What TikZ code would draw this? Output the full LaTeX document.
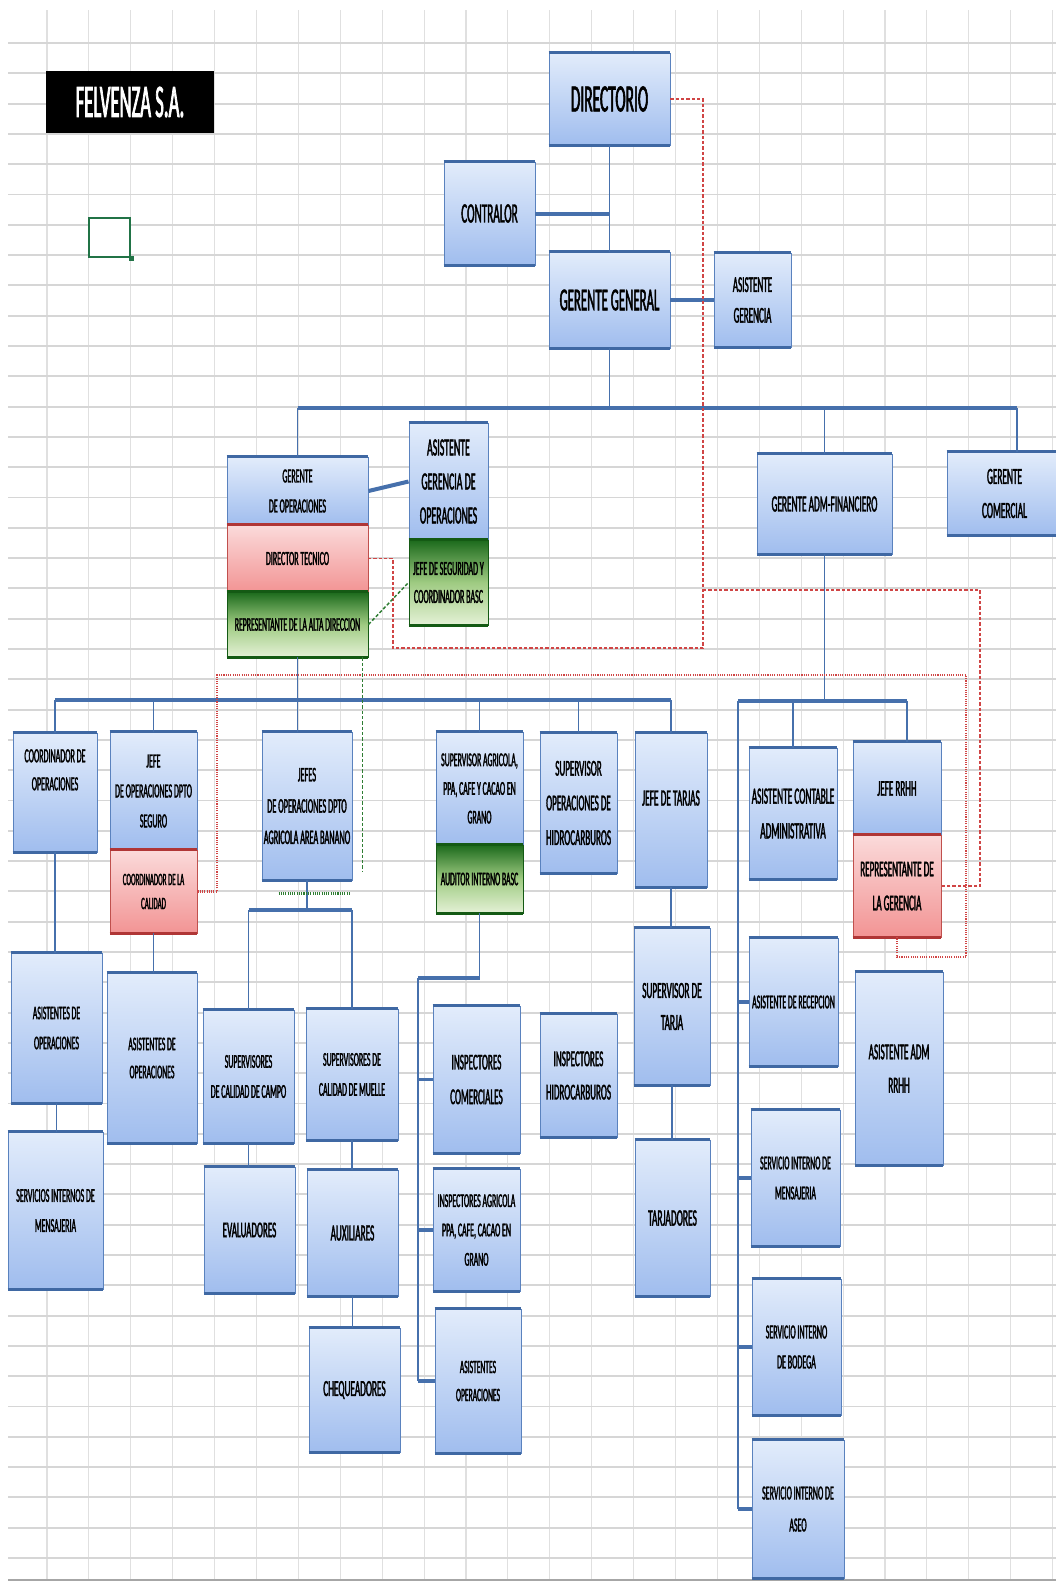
\documentclass[tikz,border=0pt]{standalone}
\usepackage{fontspec}
\newfontfamily\cf[FakeStretch=0.4, FakeBold=1.5]{Carlito}
\usetikzlibrary{calc}
\definecolor{btop}{HTML}{E2ECFB}
\definecolor{bbot}{HTML}{A0BDEE}
\definecolor{bdr}{HTML}{5A82BE}
\definecolor{bedge}{HTML}{3F68A3}
\definecolor{rtop}{HTML}{FBDADA}
\definecolor{rbot}{HTML}{F29494}
\definecolor{rdr}{HTML}{C0504D}
\definecolor{redge}{HTML}{B03636}
\definecolor{gtop}{HTML}{1C6A1C}
\definecolor{gmid}{HTML}{9FCB82}
\definecolor{gbot}{HTML}{E4F1D6}
\definecolor{gedge}{HTML}{145A14}
\definecolor{lnc}{HTML}{4670AC}
\definecolor{dashred}{HTML}{D04545}
\definecolor{dgreen}{HTML}{2E7D32}
\definecolor{gridh}{HTML}{D6D6D6}
\definecolor{gridv}{HTML}{E0E0E0}
\definecolor{xlgreen}{HTML}{217346}
\newcommand\fz[2]{\fontsize{#1}{#2}\selectfont}
\newcommand\bx[8]{%
  \node[#2, font={\cf\fz#7}, minimum width={(#5-#3)*0.75pt}, minimum height={(#6-#4)*0.75pt}]
    (#1) at ({(#3+#5)/2},{(#4+#6)/2}) {#8};}
\tikzset{
  edgeline/.style={line width=2.2pt, line cap=butt},
  boxbase/.style={line width=0.7pt, inner sep=1pt, align=center, text=black},
  bbox/.style={boxbase, draw=bdr, top color=btop, bottom color=bbot,
    append after command={(\tikzlastnode.north west) edge[edgeline, draw=bedge] (\tikzlastnode.north east)
      (\tikzlastnode.south west) edge[edgeline, draw=bedge] (\tikzlastnode.south east)}},
  rbox/.style={boxbase, draw=rdr, top color=rtop, bottom color=rbot,
    append after command={(\tikzlastnode.north west) edge[edgeline, draw=redge] (\tikzlastnode.north east)
      (\tikzlastnode.south west) edge[edgeline, draw=redge] (\tikzlastnode.south east)}},
  gbox/.style={boxbase, draw=gedge, top color=gtop, bottom color=gbot, middle color=gmid,
    append after command={(\tikzlastnode.north west) edge[edgeline, draw=gedge] (\tikzlastnode.north east)
      (\tikzlastnode.south west) edge[edgeline, draw=gedge] (\tikzlastnode.south east)}},
  conn/.style={draw=lnc, line width=1.3pt},
  connB/.style={draw=lnc, line width=2.4pt},
  connT/.style={draw=lnc, line width=3pt},
  reddash/.style={draw=dashred, line width=1.1pt, dash pattern=on 2.5pt off 1.5pt},
  reddot/.style={draw=dashred, line width=1.8pt, dash pattern=on 0.8pt off 0.9pt},
  greendash/.style={draw=dgreen, line width=1.1pt, dash pattern=on 2.5pt off 1.5pt},
  greendot/.style={draw=dgreen, line width=1.8pt, dash pattern=on 0.8pt off 0.9pt},
}
\begin{document}
\begin{tikzpicture}[x=0.75pt, y=-0.75pt]
\useasboundingbox (0,0) rectangle (1056,1582);
\fill[white] (0,0) rectangle (1056,1582);
% spreadsheet grid
\foreach \i in {0,...,24} \draw[gridv, line width=0.8pt] ({47+41.9*\i},10) -- ({47+41.9*\i},1580);
\foreach \i in {0,...,50} \draw[gridh, line width=1.4pt] (8,{43+30.3*\i}) -- (1056,{43+30.3*\i});
\draw[gray!70, line width=0.8pt] (8,1580) -- (1056,1580);

% title and selected cell
\node[fill=black, text=white, font={\cf\fz{35}{40}}, minimum width={168*0.75pt}, minimum height={62*0.75pt}] (felv) at (130,102) {FELVENZA S.A.};
\node[draw=xlgreen, line width=1.6pt, fill=white, minimum width={41*0.75pt}, minimum height={39*0.75pt}, inner sep=0pt] (sel) at (109.5,237.5) {};
\fill[xlgreen] ([shift={(-2.5,-2.5)}]sel.south east) rectangle ([shift={(2.5,2.5)}]sel.south east);

% top level
\bx{dir}{bbox}{549}{53}{670}{145}{{29}{34}}{DIRECTORIO}
\bx{contr}{bbox}{444}{162}{535}{265}{{21}{26}}{CONTRALOR}
\bx{gg}{bbox}{549}{252}{670}{348}{{24}{28}}{GERENTE GENERAL}
\bx{asg}{bbox}{714}{253}{791}{347}{{17}{23}}{ASISTENTE\\GERENCIA}

\bx{gop}{bbox}{227}{457}{368}{525}{{15}{22.5}}{GERENTE\\DE OPERACIONES}
\bx{dtec}{rbox}{227}{525}{368}{592}{{15}{22}}{DIRECTOR TECNICO}
\bx{rep}{gbox}{227}{592}{368}{657}{{14.5}{20}}{REPRESENTANTE DE LA ALTA DIRECCION}
\bx{agop}{bbox}{409}{423}{488}{540}{{18.5}{25.5}}{ASISTENTE\\GERENCIA DE\\OPERACIONES}
\bx{jseg}{gbox}{409}{540}{488}{625}{{15}{21}}{JEFE DE SEGURIDAD Y\\COORDINADOR BASC}
\bx{gadm}{bbox}{757}{454}{892}{554}{{17.4}{24}}{GERENTE ADM-FINANCIERO}
\bx{gcom}{bbox}{947}{452}{1062}{535}{{17.4}{25.5}}{GERENTE\\COMERCIAL}

% second level
\bx{cop}{bbox}{13}{733}{97}{852}{{15}{21}}{}
\node[font={\cf\fz{15}{21}}, align=center, inner sep=0pt] (copt) at ([yshift=17pt]cop.center) {COORDINADOR DE\\OPERACIONES};
\bx{jdseg}{bbox}{110}{732}{197}{850}{{15}{22.5}}{JEFE\\DE OPERACIONES DPTO\\SEGURO}
\bx{dcal}{rbox}{110}{850}{197}{933}{{13}{18}}{COORDINADOR DE LA\\CALIDAD}
\bx{jefes}{bbox}{262}{732}{352}{880}{{15.5}{23.5}}{JEFES\\DE OPERACIONES DPTO\\AGRICOLA AREA BANANO}
\bx{sagr}{bbox}{436}{732}{523}{845}{{14.7}{21.5}}{SUPERVISOR AGRICOLA,\\PPA, CAFE Y CACAO EN\\GRANO}
\bx{aud}{gbox}{436}{845}{523}{913}{{14.5}{20}}{AUDITOR INTERNO BASC}
\bx{shid}{bbox}{540}{733}{617}{873}{{17}{26}}{SUPERVISOR\\OPERACIONES DE\\HIDROCARBUROS}
\bx{jtar}{bbox}{635}{733}{707}{887}{{17.5}{24}}{}
\node[font={\cf\fz{17.5}{24}}, align=center, inner sep=0pt] (jtart) at ([yshift=9pt]jtar.center) {JEFE DE TARJAS};
\bx{acont}{bbox}{749}{748}{837}{879}{{17.5}{26}}{ASISTENTE CONTABLE\\ADMINISTRATIVA}
\bx{jrrhh}{bbox}{853}{742}{941}{835}{{17}{24}}{JEFE RRHH}
\bx{repg}{rbox}{853}{835}{941}{937}{{17}{25.5}}{REPRESENTANTE DE\\LA GERENCIA}

% third level and below
\bx{aop1}{bbox}{11}{953}{102}{1103}{{14.5}{22.5}}{ASISTENTES DE\\OPERACIONES}
\bx{smen1}{bbox}{8}{1132}{103}{1289}{{14.8}{22.5}}{SERVICIOS INTERNOS DE\\MENSAJERIA}
\bx{aop2}{bbox}{107}{973}{197}{1143}{{14.5}{21}}{ASISTENTES DE\\OPERACIONES}
\bx{scamp}{bbox}{203}{1010}{294}{1143}{{14.7}{22.5}}{SUPERVISORES\\DE CALIDAD DE CAMPO}
\bx{smue}{bbox}{306}{1009}{398}{1140}{{14.7}{22.5}}{SUPERVISORES DE\\CALIDAD DE MUELLE}
\bx{eval}{bbox}{204}{1167}{295}{1293}{{16.9}{22}}{EVALUADORES}
\bx{aux}{bbox}{307}{1170}{398}{1296}{{17.4}{22}}{AUXILIARES}
\bx{cheq}{bbox}{309}{1328}{400}{1452}{{17.3}{22}}{CHEQUEADORES}
\bx{icom}{bbox}{433}{1006}{520}{1153}{{17}{26}}{INSPECTORES\\COMERCIALES}
\bx{iagr}{bbox}{433}{1169}{520}{1291}{{14.7}{22}}{INSPECTORES AGRICOLA\\PPA, CAFE, CACAO EN\\GRANO}
\bx{asop}{bbox}{435}{1309}{521}{1453}{{14.2}{21}}{ASISTENTES\\OPERACIONES}
\bx{ihid}{bbox}{540}{1014}{617}{1137}{{17}{25}}{INSPECTORES\\HIDROCARBUROS}
\bx{star}{bbox}{634}{928}{710}{1085}{{17.3}{24}}{SUPERVISOR DE\\TARJA}
\bx{tarj}{bbox}{635}{1140}{710}{1296}{{17.7}{22}}{TARJADORES}
\bx{arec}{bbox}{749}{938}{838}{1066}{{14.7}{22}}{ASISTENTE DE RECEPCION}
\bx{smen2}{bbox}{751}{1110}{840}{1246}{{14.7}{22.5}}{SERVICIO INTERNO DE\\MENSAJERIA}
\bx{sbod}{bbox}{752}{1279}{841}{1415}{{15}{22.5}}{SERVICIO INTERNO\\DE BODEGA}
\bx{aseo}{bbox}{752}{1440}{844}{1578}{{14.9}{24}}{SERVICIO INTERNO DE\\ASEO}
\bx{aarrhh}{bbox}{855}{972}{943}{1165}{{17.2}{25}}{ASISTENTE ADM\\RRHH}

% routing coordinates
\coordinate (bR) at (1017,408);
\coordinate (b2) at (0,700);
\coordinate (b3L) at (738,701);
\coordinate (b3R) at (907,701);
\coordinate (brY) at (0,910);
\coordinate (aX) at (418,0);
\coordinate (aY) at (0,978);
\coordinate (rX) at (703,0);
\coordinate (rY1) at (0,648);
\coordinate (rX2) at (393,0);
\coordinate (rY2) at (0,590);
\coordinate (rX3) at (980,0);
\coordinate (dX1) at (217,0);
\coordinate (dY1) at (0,675);
\coordinate (dX2) at (966,0);
\coordinate (dY2) at (0,957);

% solid connectors, top
\draw[conn] (dir.south) -- (dir.south |- gg.north);
\draw[connT] (contr.east) -- (contr.east -| dir.south);
\draw[connT] (gg.east) -- (asg.west);
\draw[conn] (gg.south) -- (gg.south |- bR);
\draw[connT] (gop.north |- bR) -- (bR);
\draw[conn] (gop.north |- bR) -- (gop.north);
\draw[conn] (gadm.north |- bR) -- (gadm.north);
\draw[conn] (bR) -- (bR |- gcom.north);
\draw[connT] (gop.east) -- (agop.west);

% left bus
\draw[connB] (cop.north |- b2) -- (jtar.north |- b2);
\foreach \n in {cop,jdseg,sagr,shid,jtar} \draw[conn] (\n.north |- b2) -- (\n.north);
\draw[conn] (rep.south) -- (rep.south |- jefes.north);
\draw[conn] (cop.south) -- (cop.south |- aop1.north);
\draw[conn] (aop1.south) -- (aop1.south |- smen1.north);
\draw[conn] (dcal.south) -- (dcal.south |- aop2.north);
\draw[conn] (jefes.south) -- (jefes.south |- brY);
\draw[connB] (scamp.north |- brY) -- (smue.north |- brY);
\draw[conn] (scamp.north |- brY) -- (scamp.north);
\draw[conn] (smue.north |- brY) -- (smue.north);
\draw[conn] (scamp.south) -- (scamp.south |- eval.north);
\draw[conn] (smue.south) -- (smue.south |- aux.north);
\draw[conn] (aux.south) -- (aux.south |- cheq.north);
\draw[conn] (aud.south) -- (aud.south |- aY);
\draw[connB] (aud.south |- aY) -- (aX |- aY);
\draw[conn] (aX |- aY) -- (aX |- asop.west);
\foreach \n in {icom,iagr,asop} \draw[connB] (aX |- \n.west) -- (\n.west);
\draw[conn] (jtar.south) -- (jtar.south |- star.north);
\draw[conn] (star.south) -- (star.south |- tarj.north);

% right bus
\draw[conn] (gadm.south) -- (gadm.south |- b3L);
\draw[connB] (b3L) -- (b3R);
\draw[conn] (acont.north |- b3L) -- (acont.north);
\draw[conn] (b3R) -- (b3R |- jrrhh.north);
\draw[conn] (b3L) -- (b3L |- aseo.west);
\foreach \n in {arec,smen2,sbod,aseo} \draw[connB] (b3L |- \n.west) -- (\n.west);

% dashed relations
\draw[reddash] (dir.east) -- (dir.east -| rX) -- (rX |- rY1) -- (rX2 |- rY1) -- (rX2 |- dtec.east) -- (dtec.east);
\draw[reddash] (rX |- rY2) -- (rX3 |- rY2) -- (rX3 |- repg.east) -- (repg.east);
\draw[reddot] (dcal.east) -- (dcal.east -| dX1) -- (dX1 |- dY1) -- (dX2 |- dY1) -- (dX2 |- dY2) -- (repg.south |- dY2) -- (repg.south);
\draw[greendash] (rep.east) -- (jseg.west);
\draw[greendash] ([xshift=-4.5pt]rep.south east) -- ++(0,215);
\draw[greendot] ([shift={(17,13)}]jefes.south west) -- ([shift={(-2,13)}]jefes.south east);
\end{tikzpicture}
\end{document}
